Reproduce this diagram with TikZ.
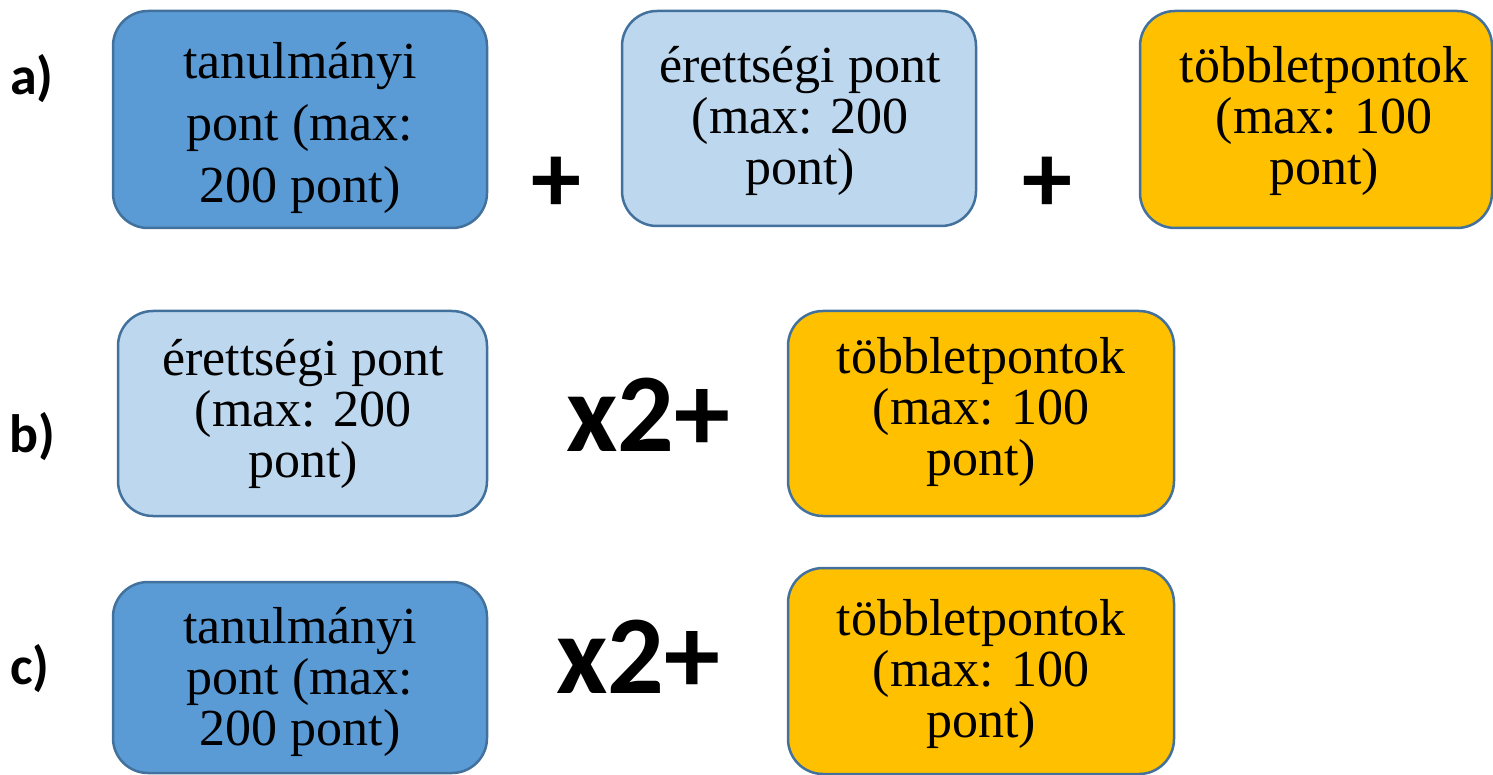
\documentclass[tikz,border=0pt]{standalone}
\usepackage{fontspec}
\setmainfont{Liberation Serif}
\newfontfamily\lblfont{Carlito}
\definecolor{dblue}{HTML}{5B9BD5}
\definecolor{lblue}{HTML}{BDD7EE}
\definecolor{gold}{HTML}{FFC000}
\definecolor{edgec}{HTML}{41719C}
\tikzset{
  boxbase/.style={draw=edgec, line width=2.5pt, rounded corners=35pt, inner sep=0pt},
  boxtext/.style={align=center, font=\fontsize{52}{51}\selectfont, inner sep=0pt},
  boxtextwide/.style={align=center, font=\fontsize{52}{62}\selectfont, inner sep=0pt},
  lbl/.style={font=\lblfont\bfseries\fontsize{54}{60}\selectfont, inner sep=0pt},
  op/.style={font=\lblfont\bfseries\fontsize{100}{120}\selectfont, inner sep=0pt},
  opbig/.style={font=\lblfont\bfseries\fontsize{112}{120}\selectfont, inner sep=0pt},
}
\begin{document}
\begin{tikzpicture}[x=1pt,y=-1pt]
\useasboundingbox (0,0) rectangle (1493,775);
% row a
\node[boxbase, fill=dblue, minimum width=374pt, minimum height=217pt] (a1) at (300,119.5) {};
\node[boxtextwide] (a1t) at (300,128) {tanulmányi\\pont (max:\\200 pont)};
\node[boxbase, fill=lblue, minimum width=354pt, minimum height=215pt] (a2) at (799,118.5) {};
\node[boxtext] (a2t) at (800,121) {érettségi pont\\(max: 200\\pont)};
\node[boxbase, fill=gold, minimum width=352pt, minimum height=217pt] (a3) at (1316,119.5) {};
\node[boxtext] (a3t) at (1324,121) {többletpontok\\(max: 100\\pont)};
\node[op] (p1) at (556,185) {+};
\node[op] (p2) at (1047,185) {+};
\node[lbl] (la) at (32,79) {a)};
% row b
\node[boxbase, fill=lblue, minimum width=369pt, minimum height=205pt] (b1) at (302.5,413.5) {};
\node[boxtext] (b1t) at (303,414) {érettségi pont\\(max: 200\\pont)};
\node[opbig] (bx) at (648,415) {x2+};
\node[boxbase, fill=gold, minimum width=386pt, minimum height=205pt] (b2) at (981,413.5) {};
\node[boxtext] (b2t) at (981,412) {többletpontok\\(max: 100\\pont)};
\node[lbl] (lb) at (32,437) {b)};
% row c
\node[boxbase, fill=dblue, minimum width=374pt, minimum height=191pt] (c1) at (300,677.5) {};
\node[boxtext] (c1t) at (300,682) {tanulmányi\\pont (max:\\200 pont)};
\node[opbig] (cx) at (638,657) {x2+};
\node[boxbase, fill=gold, minimum width=386pt, minimum height=206pt] (c2) at (981,671) {};
\node[boxtext] (c2t) at (981,674) {többletpontok\\(max: 100\\pont)};
\node[lbl] (lc) at (30,669) {c)};
\end{tikzpicture}
\end{document}
